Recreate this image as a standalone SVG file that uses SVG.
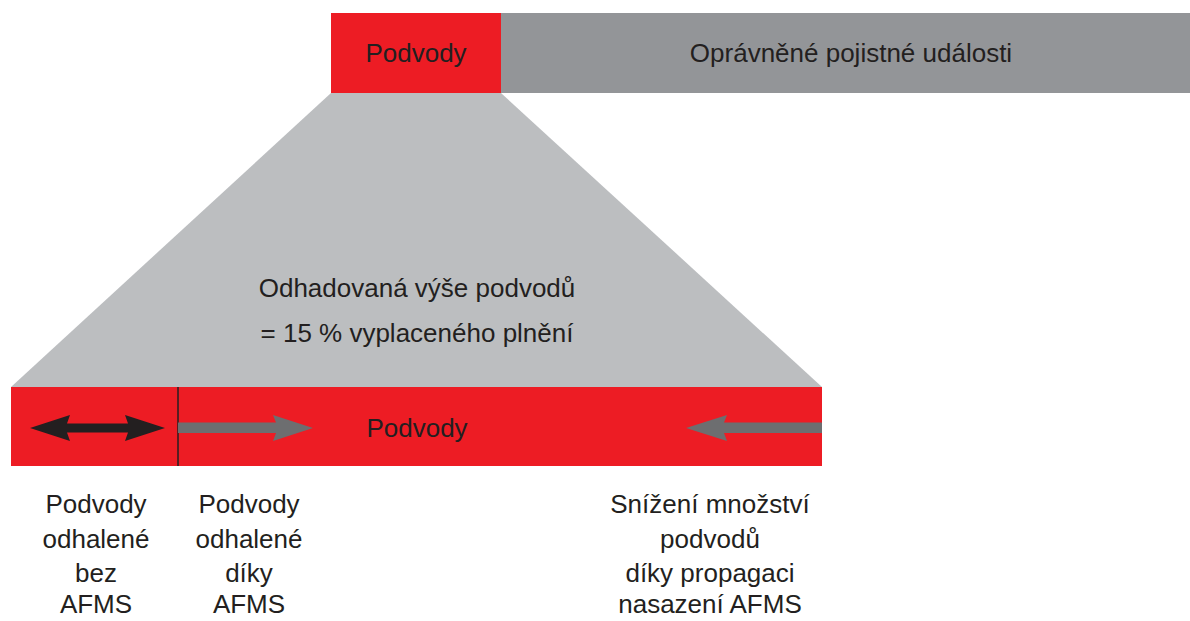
<svg xmlns="http://www.w3.org/2000/svg" width="1190" height="621" viewBox="0 0 1190 621">
<style>
.t{font-family:"Liberation Sans",Arial,sans-serif;font-size:26px;fill:#231f20;text-anchor:middle}
.red{fill:#ed1c24}
</style>
<rect width="1190" height="621" fill="#ffffff"/>
<g id="trapezoid">
<polygon points="331,93 501,93 822,387 11,387" fill="#bcbec0"/>
<text class="t" x="417" y="297">Odhadovaná výše podvodů</text>
<text class="t" x="417" y="342">= 15 % vyplaceného plnění</text>
</g>
<g id="top-podvody">
<rect class="red" x="331" y="13" width="170" height="80"/>
<text class="t" x="416" y="62">Podvody</text>
</g>
<g id="top-opravnene">
<rect x="501" y="13" width="689" height="80" fill="#939598"/>
<text class="t" x="851" y="62">Oprávněné pojistné události</text>
</g>
<g id="bottom-bar">
<rect class="red" x="11" y="387" width="811" height="79"/>
<line x1="178" y1="387" x2="178" y2="466" stroke="#231f20" stroke-width="1.5"/>
<text class="t" x="417" y="437">Podvody</text>
</g>
<g id="connectors">
<polygon points="30,428 70,415 67,423.5 128,423.5 125,415 165,428 125,441 128,432.5 67,432.5 70,441" fill="#231f20"/>
<polygon points="178,422.5 276,422.5 273,415 313,428 273,441 276,433 178,433" fill="#6d6e70"/>
<polygon points="822,422.5 724,422.5 727,415 686,428 727,441 724,433 822,433" fill="#6d6e70"/>
</g>
<g id="label-bez">
<text class="t" x="96" y="513">Podvody</text>
<text class="t" x="96" y="548">odhalené</text>
<text class="t" x="96" y="582">bez</text>
<text class="t" x="96" y="613">AFMS</text>
</g>
<g id="label-diky">
<text class="t" x="249" y="513">Podvody</text>
<text class="t" x="249" y="548">odhalené</text>
<text class="t" x="249" y="582">díky</text>
<text class="t" x="249" y="613">AFMS</text>
</g>
<g id="label-snizeni">
<text class="t" x="710" y="513">Snížení množství</text>
<text class="t" x="710" y="548">podvodů</text>
<text class="t" x="710" y="582">díky propagaci</text>
<text class="t" x="710" y="613">nasazení AFMS</text>
</g>
</svg>
